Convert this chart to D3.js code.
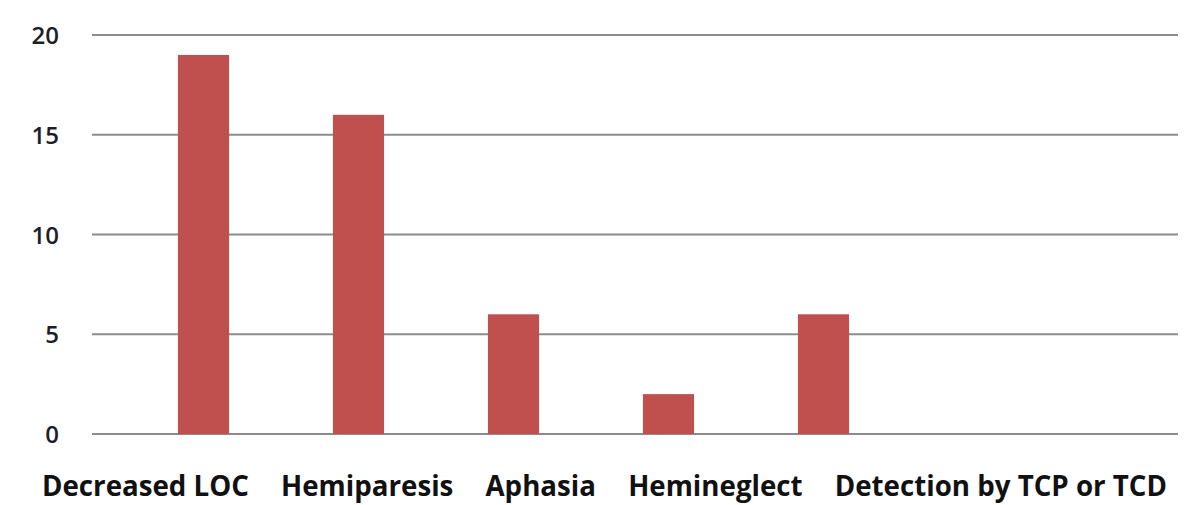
<!DOCTYPE html>
<html><head><meta charset="utf-8">
<script src="https://cdn.jsdelivr.net/npm/d3@7"></script>
<style>body{margin:0;background:#fff}svg{display:block}</style>
</head><body>
<svg id="c" width="1186" height="505"></svg>
<script>
const categories = ["Decreased LOC","Hemiparesis","Aphasia","Hemineglect","Detection by TCP or TCD"];
const values = [19,16,6,2,6];
const yTicks = [0,5,10,15,20];

const svg = d3.select("#c");
const plot = {left:92, right:1178, top:35, bottom:434};

const y = d3.scaleLinear().domain([0,20]).range([plot.bottom, plot.top]);
// category slots (7 slots, last two empty)
const slots = categories.concat(["_empty0","_empty1"]);
const x = d3.scaleBand().domain(slots).range([126, 1211]).paddingInner(0.67).paddingOuter(0.335);

// gridlines
svg.append("g").selectAll("line").data(yTicks).join("line")
  .attr("x1", plot.left).attr("x2", plot.right)
  .attr("y1", d=>y(d)).attr("y2", d=>y(d))
  .attr("stroke","#8c8c8c").attr("stroke-width",2);

// y axis labels
const yAxis = d3.axisLeft(y).tickValues(yTicks).tickSize(0).tickPadding(0);
const ga = svg.append("g").attr("transform","translate(59,0)").call(yAxis);
ga.select(".domain").remove();
ga.selectAll("text").attr("font-family","'Open Sans', sans-serif")
  .attr("font-size",24).attr("font-weight",600).attr("fill","#1e1e2a").attr("dy","0.36em");

// bars
svg.append("g").selectAll("rect").data(values).join("rect")
  .attr("x",(d,i)=>x(categories[i]))
  .attr("width", x.bandwidth())
  .attr("y", d=>y(d))
  .attr("height", d=>y(0)-y(d))
  .attr("fill","#C0504D");

// category labels flowing as one row
const labelStart = 42, labelEnd = 1167, gapTarget = 32;
const lg = svg.append("g");
const txt = lg.selectAll("text").data(categories).join("text")
  .attr("font-family","'Open Sans', sans-serif")
  .attr("font-weight","bold").attr("font-size",24)
  .attr("fill","#111").attr("y",496)
  .text(d=>d);
let widths = [];
txt.each(function(){ widths.push(this.getComputedTextLength()); });
const fs = 24 * (labelEnd - labelStart - gapTarget*(categories.length-1)) / d3.sum(widths);
txt.attr("font-size", fs);
widths = [];
txt.each(function(){ widths.push(this.getComputedTextLength()); });
const gap = (labelEnd - labelStart - d3.sum(widths)) / (categories.length-1);
let cx = labelStart;
txt.attr("x", (d,i)=>{ const v = cx; cx += widths[i] + gap; return v; });
</script>
</body></html>
